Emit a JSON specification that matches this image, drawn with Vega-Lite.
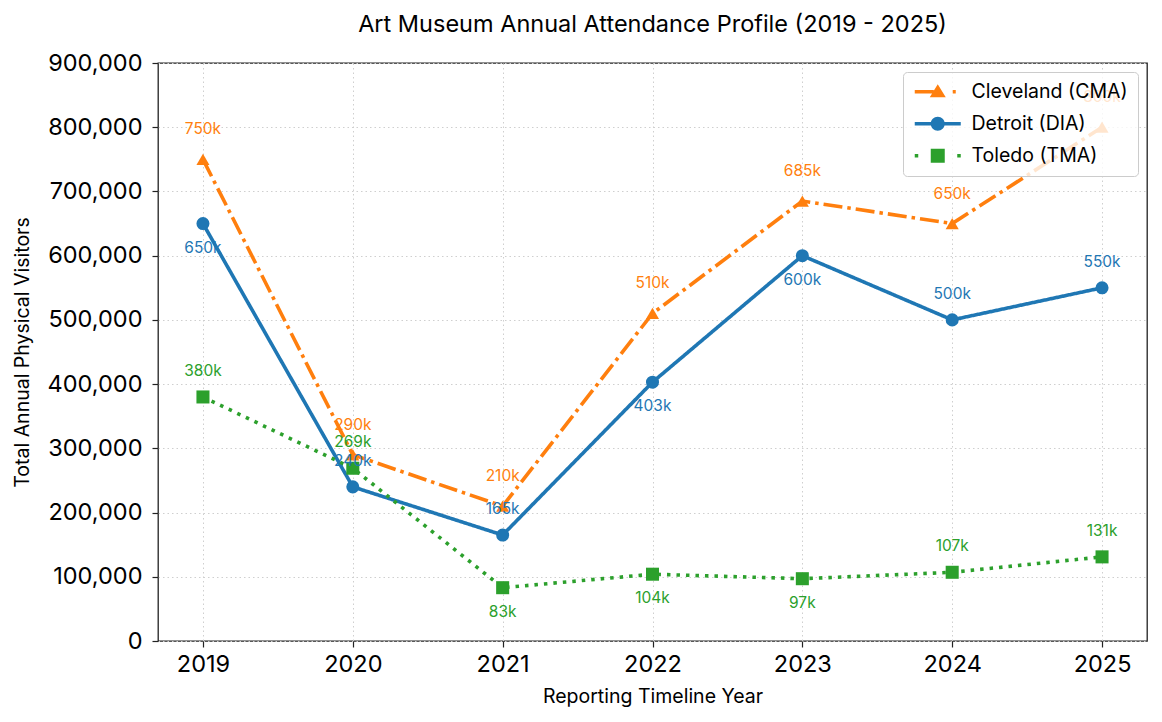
{
  "$schema": "https://vega.github.io/schema/vega-lite/v6.json",
  "width": 989,
  "height": 578,
  "autosize": {"type": "none"},
  "padding": {"left": 158, "top": 63, "right": 15, "bottom": 81},
  "background": "white",
  "title": {"text": "Art Museum Annual Attendance Profile (2019 - 2025)", "fontSize": 23.5, "fontWeight": "normal", "font": "Inter", "color": "#000", "offset": 15, "anchor": "middle"},
  "config": {
    "font": "Inter",
    "view": {"stroke": "#222", "strokeWidth": 1.3},
    "axis": {"domain": false, "tickColor": "#222", "tickWidth": 1.2, "tickSize": 6, "labelColor": "#000", "labelFontSize": 23.5, "titleFontSize": 19.5, "titleFontWeight": "normal", "titleColor": "#000", "gridColor": "#cfcfcf", "gridDash": [1.5, 3], "gridWidth": 1}
  },
  "data": {"values": [
    {"year": 2019, "series": "Cleveland (CMA)", "value": 750000},
    {"year": 2020, "series": "Cleveland (CMA)", "value": 290000},
    {"year": 2021, "series": "Cleveland (CMA)", "value": 210000},
    {"year": 2022, "series": "Cleveland (CMA)", "value": 510000},
    {"year": 2023, "series": "Cleveland (CMA)", "value": 685000},
    {"year": 2024, "series": "Cleveland (CMA)", "value": 650000},
    {"year": 2025, "series": "Cleveland (CMA)", "value": 800000},
    {"year": 2019, "series": "Detroit (DIA)", "value": 650000},
    {"year": 2020, "series": "Detroit (DIA)", "value": 240000},
    {"year": 2021, "series": "Detroit (DIA)", "value": 165000},
    {"year": 2022, "series": "Detroit (DIA)", "value": 403000},
    {"year": 2023, "series": "Detroit (DIA)", "value": 600000},
    {"year": 2024, "series": "Detroit (DIA)", "value": 500000},
    {"year": 2025, "series": "Detroit (DIA)", "value": 550000},
    {"year": 2019, "series": "Toledo (TMA)", "value": 380000},
    {"year": 2020, "series": "Toledo (TMA)", "value": 269000},
    {"year": 2021, "series": "Toledo (TMA)", "value": 83000},
    {"year": 2022, "series": "Toledo (TMA)", "value": 104000},
    {"year": 2023, "series": "Toledo (TMA)", "value": 97000},
    {"year": 2024, "series": "Toledo (TMA)", "value": 107000},
    {"year": 2025, "series": "Toledo (TMA)", "value": 131000}
  ]},
  "encoding": {
    "x": {"field": "year", "type": "quantitative", "scale": {"domain": [2018.7, 2025.3], "nice": false, "zero": false},
      "axis": {"title": "Reporting Timeline Year", "values": [2019, 2020, 2021, 2022, 2023, 2024, 2025], "format": "d", "labelPadding": 5, "titlePadding": 12}},
    "y": {"field": "value", "type": "quantitative", "scale": {"domain": [0, 900000], "nice": false},
      "axis": {"title": "Total Annual Physical Visitors", "values": [0, 100000, 200000, 300000, 400000, 500000, 600000, 700000, 800000, 900000], "format": ",d", "labelPadding": 10, "titlePadding": 15}},
    "color": {"field": "series", "type": "nominal", "scale": {"domain": ["Cleveland (CMA)", "Detroit (DIA)", "Toledo (TMA)"], "range": ["#ff7f0e", "#1f77b4", "#2ca02c"]},
      "legend": {"title": null, "orient": "top-right", "offset": 9, "padding": 10, "fillColor": "rgba(255,255,255,0.8)", "strokeColor": "#cccccc", "cornerRadius": 4, "labelFontSize": 19.5, "labelColor": "#000", "rowPadding": 11, "symbolSize": 100, "symbolOffset": 15, "labelOffset": 24,
        "encode": {"symbols": {"update": {
          "shape": {"signal": "datum.value == 'Cleveland (CMA)' ? 'M-4.6,-0.35H-0.8V0.35H-4.6Z M0,-1.5L1.6,1.1L-1.6,1.1Z M3.0,-0.35H3.6V0.35H3.0Z' : datum.value == 'Detroit (DIA)' ? 'M-4.6,-0.35H4.6V0.35H-4.6Z M-1.4,0A1.4,1.4 0 1,1 1.4,0A1.4,1.4 0 1,1 -1.4,0Z' : 'M-4.6,-0.35H-3.9V0.35H-4.6Z M-1.4,-1.4H1.4V1.4H-1.4Z M3.9,-0.35H4.6V0.35H3.9Z'"},
          "fill": {"scale": "color", "field": "value"},
          "stroke": {"value": "transparent"},
          "strokeWidth": {"value": 0},
          "strokeDash": {"value": [1, 0]},
          "opacity": {"value": 1},
          "fillOpacity": {"value": 1}
        }}}
      }}
  },
  "layer": [
    {
      "mark": {"type": "line", "strokeWidth": 3.6},
      "encoding": {
        "strokeDash": {"field": "series", "type": "nominal", "scale": {"domain": ["Cleveland (CMA)", "Detroit (DIA)", "Toledo (TMA)"], "range": [[19, 5, 3.5, 5], [1, 0], [3.5, 6]]}, "legend": null}
      }
    },
    {
      "transform": [{"filter": "datum.series == 'Cleveland (CMA)'"}],
      "mark": {"type": "point", "filled": true, "opacity": 1, "size": 170, "shape": "triangle-up"}
    },
    {
      "transform": [{"filter": "datum.series == 'Detroit (DIA)'"}],
      "mark": {"type": "point", "filled": true, "opacity": 1, "size": 170, "shape": "circle"}
    },
    {
      "transform": [{"filter": "datum.series == 'Toledo (TMA)'"}],
      "mark": {"type": "point", "filled": true, "opacity": 1, "size": 170, "shape": "square"}
    },
    {
      "transform": [{"filter": "datum.series == 'Cleveland (CMA)'"}],
      "mark": {"type": "text", "fontSize": 15.5, "dy": -30, "baseline": "middle"},
      "encoding": {"text": {"field": "value", "type": "quantitative", "format": "~s"}}
    },
    {
      "transform": [{"filter": "(datum.series == 'Detroit (DIA)' && indexof([2020, 2021, 2024, 2025], datum.year) >= 0) || (datum.series == 'Toledo (TMA)' && indexof([2019, 2020, 2024, 2025], datum.year) >= 0)"}],
      "mark": {"type": "text", "fontSize": 15.5, "dy": -26, "baseline": "middle"},
      "encoding": {"text": {"field": "value", "type": "quantitative", "format": "~s"}}
    },
    {
      "transform": [{"filter": "(datum.series == 'Detroit (DIA)' && indexof([2019, 2022, 2023], datum.year) >= 0) || (datum.series == 'Toledo (TMA)' && indexof([2021, 2022, 2023], datum.year) >= 0)"}],
      "mark": {"type": "text", "fontSize": 15.5, "dy": 24, "baseline": "middle"},
      "encoding": {"text": {"field": "value", "type": "quantitative", "format": "~s"}}
    }
  ]
}
